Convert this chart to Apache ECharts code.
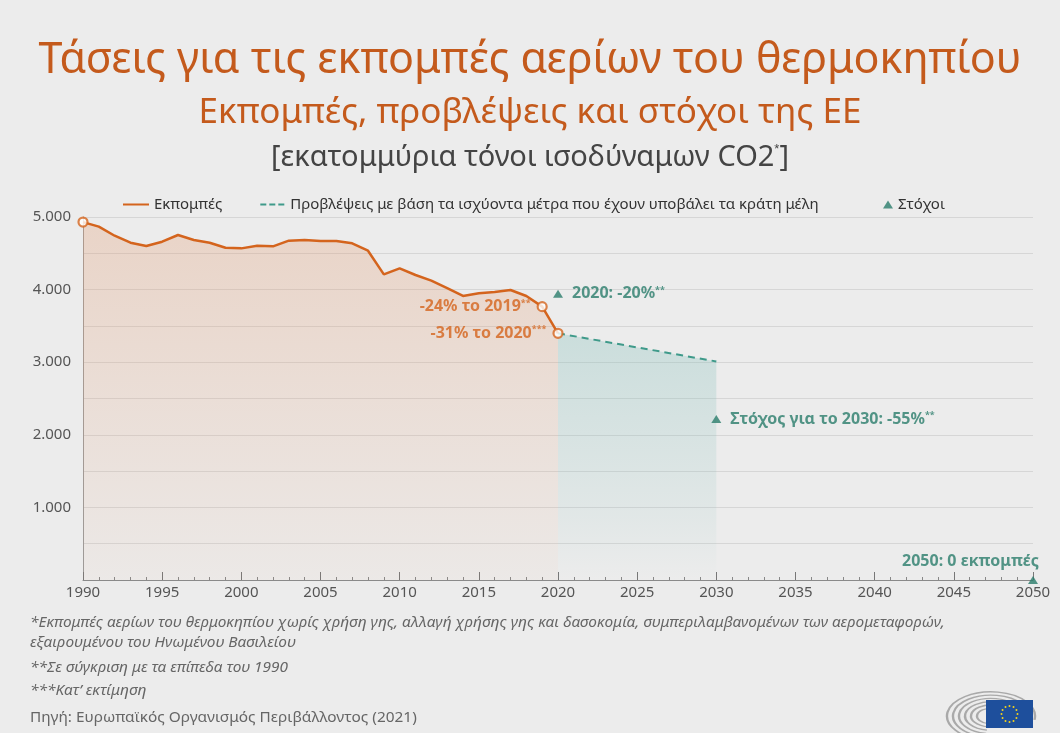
<!DOCTYPE html>
<html>
<head>
<meta charset="utf-8">
<script src="https://cdn.jsdelivr.net/npm/echarts@6/dist/echarts.min.js"></script>
<style>
  html, body { margin: 0; padding: 0; background: #ececec; }
  #chart { width: 1060px; height: 733px; }
</style>
</head>
<body>
<div id="chart"></div>
<script>
// emissions, EU, million tonnes CO2 equivalent
const years = [1990, 1991, 1992, 1993, 1994, 1995, 1996, 1997, 1998, 1999, 2000, 2001, 2002, 2003, 2004, 2005,
  2006, 2007, 2008, 2009, 2010, 2011, 2012, 2013, 2014, 2015, 2016, 2017, 2018, 2019, 2020]
const emissions = [4930, 4867, 4742, 4646, 4600, 4660, 4752, 4683, 4646, 4577, 4568, 4605, 4596, 4674, 4683, 4669,
  4669, 4637, 4536, 4210, 4293, 4201, 4123, 4020, 3912, 3949, 3967, 3994, 3912, 3765, 3398]

const projYears = [2020, 2030]
const projection = [3398, 3010]

const targetYears = [2020, 2030, 2050]
const targets = [3944, 2218, 0]

const markedYears = [1990, 2019, 2020]

const orange = '#d4641d'
const teal = '#2b7d6c'

const chart = echarts.init(document.getElementById('chart'))

const emissionData = years.map((y, i) => [y, emissions[i]])
const projData = projYears.map((y, i) => [y, projection[i]])
const markedData = markedYears.map(y => [y, emissions[years.indexOf(y)]])

const markedLabels = {
  2019: '{b|-24% το 2019}{s|**}',
  2020: '{b|-31% το 2020}{s|***}',
}
const supRich = {
  b: { fontSize: 16, fontWeight: 'bold', fontFamily: 'Noto Sans' },
  s: { fontSize: 9, fontWeight: 'bold', verticalAlign: 'top', lineHeight: 16, padding: [0, 0, 7, 0] },
}

const targetLabelCfg = [
  { text: '{b|2020: -20%}{s|**}', position: 'right', align: 'left', offset: [4, 0] },
  { text: '{b|Στόχος για το 2030: -55%}{s|**}', position: 'right', align: 'left', offset: [4, 0] },
  { text: '{b|2050: 0 εκπομπές}', position: 'top', align: 'right', offset: [6, -2] },
]

const note = (text, y, italic) => ({
  type: 'text', x: 30, y: y, scaleX: 1.1,
  style: { text: text, fill: '#666', font: (italic ? 'italic ' : '') + '14px "Noto Sans"' },
})

const option = {
  backgroundColor: '#ececec',
  animation: false,
  textStyle: { fontFamily: 'Noto Sans' },
  graphic: [
    {
      type: 'text', left: 'center', top: 39,
      style: { text: 'Τάσεις για τις εκπομπές αερίων του θερμοκηπίου', fill: '#c45a1c', font: '43px "Noto Sans"' },
    },
    {
      type: 'text', left: 'center', top: 96,
      style: { text: 'Εκπομπές, προβλέψεις και στόχοι της ΕΕ', fill: '#c45a1c', font: '35px "Noto Sans"' },
    },
    {
      type: 'text', left: 'center', top: 143,
      style: {
        text: '[εκατομμύρια τόνοι ισοδύναμων CO2{s|*}]', fill: '#444', font: '29px "Noto Sans"',
        rich: { s: { fontSize: 13, fill: '#444', verticalAlign: 'top', padding: [0, 0, 14, 0] } },
      },
    },
    note('*Εκπομπές αερίων του θερμοκηπίου χωρίς χρήση γης, αλλαγή χρήσης γης και δασοκομία, συμπεριλαμβανομένων των αερομεταφορών,', 616, true),
    note('εξαιρουμένου του Ηνωμένου Βασιλείου', 636, true),
    note('**Σε σύγκριση με τα επίπεδα του 1990', 661, true),
    note('***Κατ\u2019 εκτίμηση', 684, true),
    note('Πηγή: Ευρωπαϊκός Οργανισμός Περιβάλλοντος (2021)', 711, false),
    // parliament logo
    {
      type: 'group', x: 985, y: 716, scaleY: 0.55,
      children: [14, 20, 26, 32, 38, 44].map(r => ({
        type: 'arc', shape: { cx: 6, cy: 0, r: r, startAngle: Math.PI * 0.55, endAngle: Math.PI * 2.05 },
        style: { stroke: '#a9a9a9', lineWidth: 2.4, fill: null },
      })),
    },
    { type: 'rect', shape: { x: 986, y: 700, width: 47, height: 28 }, style: { fill: '#1e4f9c' } },
    {
      type: 'group', x: 1009.5, y: 714,
      children: Array.from({ length: 12 }, (_, k) => ({
        type: 'circle',
        shape: { cx: 8 * Math.cos(k * Math.PI / 6), cy: 8 * Math.sin(k * Math.PI / 6), r: 1 },
        style: { fill: '#f5d31a' },
      })),
    },
  ],
  legend: [
    {
      left: 118, top: 192, itemGap: 38, itemWidth: 26, itemHeight: 2,
      textStyle: { color: '#333', fontSize: 15 },
      data: [
        { name: 'Εκπομπές', icon: 'rect' },
        { name: 'Προβλέψεις με βάση τα ισχύοντα μέτρα που έχουν υποβάλει τα κράτη μέλη', icon: 'path://M0,0h6v2h-6zM9,0h6v2h-6zM18,0h6v2h-6z' },
      ],
    },
    {
      left: 878, top: 192, itemWidth: 10, itemHeight: 8,
      textStyle: { color: '#333', fontSize: 15 },
      data: [{ name: 'Στόχοι', icon: 'triangle' }],
    },
  ],
  grid: { left: 83, right: 27, top: 217, bottom: 153 },
  xAxis: {
    type: 'value', min: 1990, max: 2050, interval: 5,
    axisLine: { lineStyle: { color: '#8a8a8a' } },
    axisTick: { inside: true, length: 8, lineStyle: { color: '#777' } },
    minorTick: { show: true, splitNumber: 5, length: 3, lineStyle: { color: '#888' } },
    splitLine: { show: false },
    axisLabel: { color: '#555', fontSize: 15, margin: 5, formatter: v => String(v) },
  },
  yAxis: {
    type: 'value', min: 0, max: 5000, interval: 500,
    axisLine: { show: true, lineStyle: { color: '#9a9a9a' } },
    axisTick: { show: false },
    splitLine: { lineStyle: { color: '#d6d6d6' } },
    axisLabel: {
      color: '#555', fontSize: 15, margin: 12,
      formatter: v => (v > 0 && v % 1000 === 0 ? (v / 1000) + '.000' : ''),
    },
  },
  series: [
    {
      name: 'Εκπομπές', type: 'line', data: emissionData, showSymbol: false, clip: false,
      color: orange,
      lineStyle: { color: orange, width: 2.5 },
      areaStyle: {
        color: new echarts.graphic.LinearGradient(0, 0, 0, 1, [
          { offset: 0, color: 'rgba(226,150,105,0.4)' },
          { offset: 1, color: 'rgba(226,150,105,0.06)' },
        ]),
      },
      z: 3,
    },
    {
      name: 'Προβλέψεις με βάση τα ισχύοντα μέτρα που έχουν υποβάλει τα κράτη μέλη', type: 'line',
      data: projData, showSymbol: false, color: '#3f9a8a',
      lineStyle: { color: '#3f9a8a', width: 2, type: [7, 5] },
      areaStyle: {
        color: new echarts.graphic.LinearGradient(0, 0, 0, 1, [
          { offset: 0, color: 'rgba(130,190,185,0.45)' },
          { offset: 0.75, color: 'rgba(130,190,185,0.14)' },
          { offset: 1, color: 'rgba(130,190,185,0)' },
        ]),
      },
      z: 2,
    },
    {
      name: 'marked', type: 'scatter', data: markedData, clip: false,
      symbol: 'circle', symbolSize: 9,
      itemStyle: { color: '#fff', borderColor: orange, borderWidth: 2.2 },
      label: {
        show: true, position: 'left', distance: 6, color: orange,
        formatter: p => markedLabels[p.value[0]] || '',
        rich: supRich,
      },
      z: 5,
    },
    {
      name: 'Στόχοι', type: 'scatter', clip: false, color: teal,
      symbol: 'triangle', symbolSize: [10, 8],
      data: targetYears.map((y, i) => ({
        value: [y, targets[i]],
        label: {
          formatter: targetLabelCfg[i].text, position: targetLabelCfg[i].position,
          align: targetLabelCfg[i].align, offset: targetLabelCfg[i].offset,
        },
      })),
      label: { show: true, color: teal, rich: supRich },
      z: 5,
    },
  ],
}

chart.setOption(option)
</script>
</body>
</html>
